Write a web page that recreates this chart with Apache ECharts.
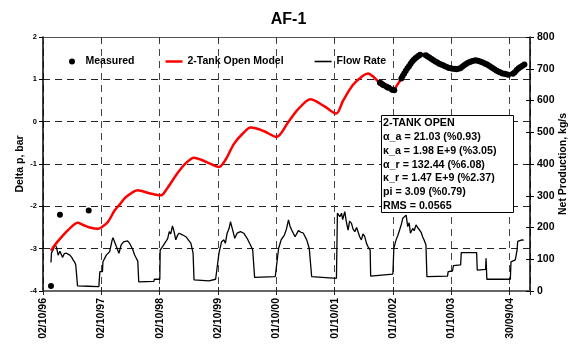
<!DOCTYPE html>
<html>
<head>
<meta charset="utf-8">
<script src="https://cdn.jsdelivr.net/npm/echarts@6/dist/echarts.min.js"></script>
<style>
  html, body { margin: 0; padding: 0; background: #fff; }
  #chart { width: 577px; height: 345px; }
</style>
</head>
<body>
<div id="chart"></div>
<script>
// Time is counted in days since 02/10/96; one tick per 365 days.
const xTickLabels = ['02/10/96', '02/10/97', '02/10/98', '02/10/99', '01/10/00',
                     '01/10/01', '01/10/02', '01/10/03', '30/09/04'];
const dayMax = 3047;

// Left axis: Delta p (bar)
const dpTicks = [-4, 2, 1];           // min, max, interval
// Right axis: Net Production (kg/s)
const flowTicks = [0, 800, 100];      // min, max, interval

// Measured pressure drop [day, bar]
const measured = [
  [50, -3.88], [106, -2.2], [286, -2.1],
  [2108, 0.92], [2116, 0.90], [2124, 0.88], [2132, 0.86],
  [2148, 0.83], [2156, 0.81], [2164, 0.80],
  [2182, 0.76], [2190, 0.75], [2198, 0.74],
  [2242, 1.02], [2250, 1.08], [2260, 1.14], [2270, 1.20], [2280, 1.26], [2290, 1.31],
  [2300, 1.37], [2310, 1.42], [2320, 1.46], [2330, 1.50], [2340, 1.53], [2350, 1.56],
  [2360, 1.58],
  [2395, 1.57], [2407, 1.54], [2419, 1.51], [2431, 1.48], [2443, 1.45], [2455, 1.42],
  [2467, 1.40], [2479, 1.37], [2491, 1.35], [2503, 1.33], [2515, 1.31], [2527, 1.29],
  [2539, 1.27], [2551, 1.26], [2563, 1.25], [2575, 1.25], [2587, 1.24], [2599, 1.25],
  [2611, 1.26], [2623, 1.30], [2635, 1.33], [2647, 1.36], [2659, 1.39], [2671, 1.41],
  [2683, 1.43], [2695, 1.44], [2707, 1.45], [2719, 1.44], [2731, 1.43], [2743, 1.41],
  [2755, 1.39], [2767, 1.37], [2779, 1.35], [2791, 1.32], [2803, 1.29], [2815, 1.26],
  [2827, 1.23], [2839, 1.20], [2851, 1.18], [2863, 1.16], [2875, 1.14], [2887, 1.13],
  [2899, 1.12], [2911, 1.11],
  [2940, 1.13], [2952, 1.17], [2964, 1.22], [2976, 1.26], [2988, 1.29], [3000, 1.32],
  [3012, 1.35]
];

// 2-Tank Open Model [day, bar]
const model = [
  [50, -3.05], [75, -2.91], [106, -2.77], [147, -2.6], [188, -2.45], [216, -2.39],
  [251, -2.44], [292, -2.5], [344, -2.53], [375, -2.47], [406, -2.37], [448, -2.1],
  [479, -1.96], [520, -1.78], [593, -1.62], [665, -1.69], [738, -1.74], [769, -1.62],
  [841, -1.22], [894, -0.98], [945, -0.85], [990, -0.9], [1038, -0.98], [1101, -1.07],
  [1142, -0.9], [1194, -0.53], [1250, -0.28], [1300, -0.14], [1380, -0.22], [1461, -0.36],
  [1536, 0.0], [1598, 0.3], [1673, 0.53], [1754, 0.38], [1834, 0.19], [1878, 0.5],
  [1940, 0.87], [2000, 1.08], [2034, 1.14], [2070, 1.05], [2106, 0.92], [2150, 0.82],
  [2189, 0.75], [2225, 0.92], [2261, 1.14], [2324, 1.46], [2381, 1.6], [2448, 1.46],
  [2510, 1.34], [2572, 1.26], [2613, 1.26], [2655, 1.38], [2717, 1.46], [2779, 1.38],
  [2842, 1.22], [2918, 1.12], [2945, 1.14], [3008, 1.34], [3016, 1.36]
];

// Flow Rate [day, kg/s]
const flowRate = [
  [50, 90], [53, 120], [64, 130], [75, 147], [84, 138], [95, 113], [106, 125], [122, 106],
  [134, 118], [147, 119], [159, 116], [168, 113], [180, 106], [188, 98], [199, 90],
  [205, 82], [213, 76], [216, 16], [280, 15], [350, 14], [352, 35], [355, 35], [356, 61],
  [372, 61], [375, 92], [396, 113], [417, 124], [433, 161], [438, 168], [459, 140],
  [475, 119], [489, 145], [504, 155], [516, 161], [529, 158], [541, 151], [562, 130],
  [572, 115], [583, 104], [593, 94], [599, 29], [694, 30], [696, 37], [731, 37],
  [733, 129], [748, 140], [769, 156], [780, 165], [790, 187], [799, 180], [810, 205],
  [821, 185], [831, 161], [841, 175], [852, 182], [872, 177], [894, 171], [908, 162],
  [925, 151], [939, 119], [945, 35], [1038, 32], [1080, 37], [1090, 40],
  [1101, 119], [1117, 155], [1132, 161], [1141, 150], [1152, 182], [1163, 195],
  [1173, 218], [1184, 197], [1200, 166], [1214, 182], [1236, 187], [1256, 182],
  [1277, 166], [1298, 145], [1312, 129], [1324, 43], [1453, 45], [1463, 50],
  [1474, 134], [1490, 161], [1511, 177], [1523, 195], [1536, 224], [1545, 205],
  [1556, 192], [1577, 171], [1598, 190], [1614, 185], [1629, 182], [1650, 161],
  [1666, 134], [1681, 45], [1836, 40],
  [1842, 245], [1857, 234], [1868, 245], [1875, 225], [1888, 250], [1899, 215],
  [1909, 192], [1918, 220], [1930, 213], [1940, 195], [1951, 187], [1962, 200],
  [1971, 197], [1982, 170], [1992, 161], [2002, 180], [2013, 171], [2024, 150],
  [2033, 140], [2042, 135], [2047, 129], [2050, 47], [2189, 53],
  [2195, 134], [2209, 161], [2220, 175], [2231, 192], [2242, 210], [2251, 229],
  [2272, 239], [2282, 203], [2291, 215], [2299, 182], [2313, 197], [2322, 190],
  [2334, 208], [2344, 200], [2355, 197], [2366, 185], [2375, 171], [2385, 160],
  [2396, 145], [2402, 45], [2531, 47], [2535, 61], [2562, 63], [2568, 80],
  [2613, 82], [2617, 121], [2713, 121], [2717, 66], [2769, 68], [2772, 103],
  [2775, 100], [2777, 37], [2924, 37], [2928, 92], [2955, 98], [2966, 129],
  [2970, 156], [2997, 161], [3008, 160]
];

// Fitted parameter summary
const fitLines = [
  '2-TANK OPEN',
  'α_a = 21.03 (%0.93)',
  'κ_a = 1.98 E+9 (%3.05)',
  'α_r = 132.44 (%6.08)',
  'κ_r = 1.47 E+9 (%2.37)',
  'pi = 3.09 (%0.79)',
  'RMS = 0.0565'
];

const FONT = '"Liberation Sans", Arial, sans-serif';
const bold = (size) => ({ fontFamily: FONT, fontWeight: 'bold', fontSize: size, color: '#000' });

const dayAxis = {
  type: 'value',
  min: 0, max: dayMax, interval: 365
};
const flowAxis = {
  type: 'value',
  position: 'right',
  min: flowTicks[0], max: flowTicks[1], interval: flowTicks[2]
};

const chart = echarts.init(document.getElementById('chart'), null, { renderer: 'canvas' });

chart.setOption({
  animation: false,
  backgroundColor: '#fff',
  title: {
    text: 'AF-1',
    left: 'center',
    top: 7,
    textStyle: bold(16)
  },
  legend: {
    left: 64,
    top: 51,
    itemWidth: 17,
    itemHeight: 6,
    itemGap: 31,
    textStyle: bold(10.5),
    data: [
      { name: 'Measured', icon: 'circle' },
      { name: '2-Tank Open Model', icon: 'path://M0,0H17V2.5H0Z' },
      { name: 'Flow Rate', icon: 'path://M0,0H17V1.6H0Z' }
    ]
  },
  grid: {
    left: 43, right: 44, top: 37, bottom: 54,
    show: false
  },
  xAxis: [{
    ...dayAxis,
    axisLine: { onZero: false, lineStyle: { color: '#666', width: 2 } },
    axisTick: { show: true, length: 4, lineStyle: { color: '#222' } },
    axisLabel: {
      rotate: 90,
      margin: 7,
      ...bold(10.5),
      formatter: (v) => (v % 365 === 0 ? (xTickLabels[v / 365] || '') : '')
    },
    splitLine: { show: true, lineStyle: { color: '#444', type: [7, 5], width: 1 } }
  }, {
    // upper frame edge with inward ticks
    ...dayAxis,
    position: 'top',
    axisLine: { onZero: false, lineStyle: { color: '#555', width: 1 } },
    axisTick: { show: true, inside: true, length: 5, lineStyle: { color: '#333' } },
    axisLabel: { show: false },
    splitLine: { show: false }
  }, {
    // inward half of the bottom ticks
    ...dayAxis,
    position: 'bottom',
    axisLine: { show: false, onZero: false },
    axisTick: { show: true, inside: true, length: 4, lineStyle: { color: '#222' } },
    axisLabel: { show: false },
    splitLine: { show: false }
  }],
  yAxis: [{
    type: 'value',
    min: dpTicks[0], max: dpTicks[1], interval: dpTicks[2],
    name: 'Delta p, bar',
    nameLocation: 'middle',
    nameGap: 17,
    nameMoveOverlap: false,
    nameTextStyle: bold(10.5),
    axisLine: { show: true, onZero: false, lineStyle: { color: '#000', width: 1.5 } },
    axisTick: { show: true, length: 4, lineStyle: { color: '#000' } },
    axisLabel: { margin: 6, ...bold(7.5) },
    splitLine: { show: true, lineStyle: { color: '#222', type: [7, 5], width: 1 } }
  }, {
    ...flowAxis,
    name: 'Net Production, kg/s',
    nameLocation: 'middle',
    nameGap: 28,
    nameMoveOverlap: false,
    nameRotate: 90,
    nameTextStyle: bold(10.5),
    axisLine: { show: true, onZero: false, lineStyle: { color: '#000', width: 1.5 } },
    axisTick: { show: true, length: 4, lineStyle: { color: '#000' } },
    axisLabel: { margin: 7, ...bold(10.5) },
    splitLine: { show: false }
  }, {
    // inward half of the right-hand ticks
    ...flowAxis,
    axisLine: { show: false, onZero: false },
    axisTick: { show: true, inside: true, length: 4, lineStyle: { color: '#000' } },
    axisLabel: { show: false },
    splitLine: { show: false }
  }],
  series: [{
    name: 'Measured',
    type: 'scatter',
    xAxisIndex: 0, yAxisIndex: 0,
    data: measured,
    symbol: 'circle',
    symbolSize: 6,
    itemStyle: { color: '#000', opacity: 1 },
    z: 5
  }, {
    name: '2-Tank Open Model',
    type: 'line',
    xAxisIndex: 0, yAxisIndex: 0,
    data: model,
    smooth: 0.3,
    symbol: 'none',
    lineStyle: { color: '#ff0000', width: 2.5 },
    itemStyle: { color: '#ff0000' },
    z: 4
  }, {
    name: 'Flow Rate',
    type: 'line',
    xAxisIndex: 0, yAxisIndex: 1,
    data: flowRate,
    symbol: 'none',
    lineStyle: { color: '#000', width: 1.3 },
    itemStyle: { color: '#000' },
    z: 3
  }],
  graphic: {
    elements: [{
      type: 'rect',
      z: 100,
      shape: { x: 381.5, y: 115.5, width: 132, height: 97 },
      style: { fill: '#fff', stroke: '#000', lineWidth: 1 }
    }, {
      type: 'text',
      z: 101,
      x: 383, y: 116,
      style: {
        text: fitLines.join('\n'),
        font: 'bold 10.7px ' + FONT,
        lineHeight: 13.9,
        fill: '#000',
        verticalAlign: 'top'
      }
    }]
  }
});
</script>
</body>
</html>
